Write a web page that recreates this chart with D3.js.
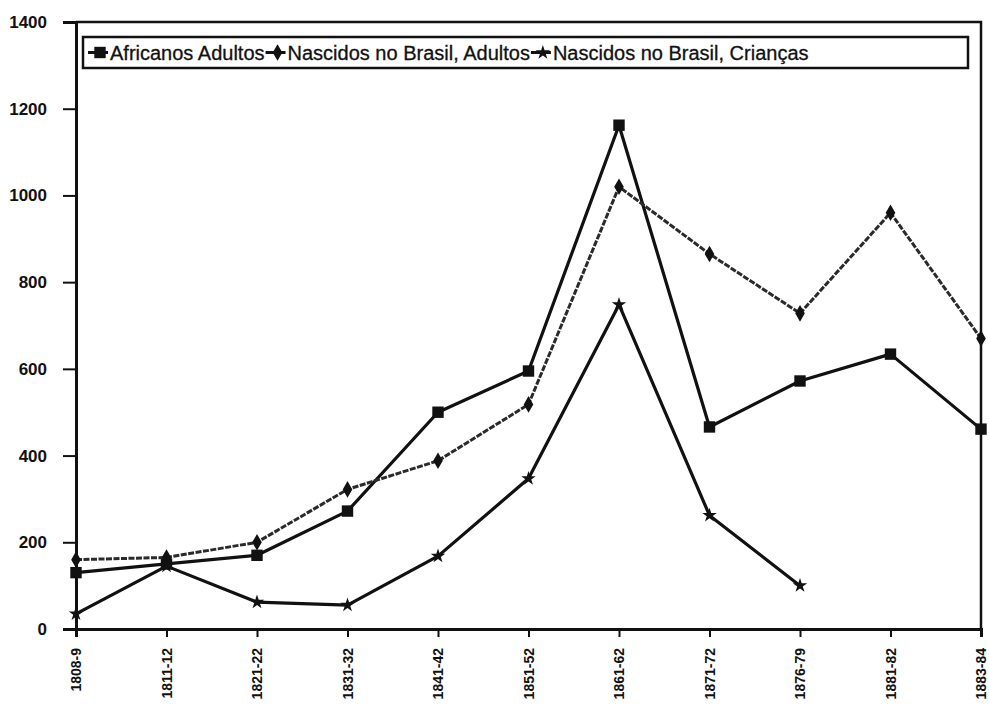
<!DOCTYPE html>
<html>
<head>
<meta charset="utf-8">
<script src="https://cdn.jsdelivr.net/npm/d3@7"></script>
<style>
html,body{margin:0;padding:0;background:#fff;}
svg{display:block;}
</style>
</head>
<body>
<svg id="chart" width="989" height="709"></svg>
<script>
const categories = ["1808-9","1811-12","1821-22","1831-32","1841-42","1851-52","1861-62","1871-72","1876-79","1881-82","1883-84"];
const africanosAdultos = [130,150,170,272,500,595,1162,466,572,634,461];
const nascidosAdultos = [160,165,200,322,388,518,1020,865,728,960,670];
const nascidosCriancas = [35,145,62,55,168,347,748,262,100,null,null];
const yTicks = [0,200,400,600,800,1000,1200,1400];
const seriesNames = ["Africanos Adultos","Nascidos no Brasil, Adultos","Nascidos no Brasil, Crianças"];

const svg = d3.select("#chart");
const plotLeft = 76, plotRight = 981, plotTop = 22, plotBottom = 629;

const x = d3.scalePoint().domain(categories).range([plotLeft, plotRight]);
const y = d3.scaleLinear().domain([0,1400]).range([plotBottom, plotTop]);

// frame (top/right)
svg.append("path")
  .attr("d", `M${plotLeft},${plotTop}H${plotRight}V${plotBottom}`)
  .attr("fill","none").attr("stroke","#111").attr("stroke-width",2.5);

// Y axis
const yAxis = svg.append("g").attr("transform",`translate(${plotLeft},0)`)
  .call(d3.axisLeft(y).tickValues(yTicks).tickSize(13).tickPadding(16).tickFormat(d3.format("d")));
yAxis.select(".domain").attr("stroke","#111").attr("stroke-width",3);
yAxis.selectAll(".tick line").attr("stroke","#111").attr("stroke-width",2);
yAxis.selectAll("text").attr("font-family","Liberation Sans, Arial, sans-serif")
  .attr("font-weight","bold").attr("font-size",17).attr("fill","#111");

// X axis
const xAxis = svg.append("g").attr("transform",`translate(0,${plotBottom})`)
  .call(d3.axisBottom(x).tickSize(8).tickPadding(0));
xAxis.select(".domain").attr("stroke","#111").attr("stroke-width",3);
xAxis.selectAll(".tick line").attr("stroke","#111").attr("stroke-width",2);
xAxis.selectAll("text")
  .attr("font-family","Liberation Sans, Arial, sans-serif")
  .attr("font-weight","bold").attr("font-size",14).attr("fill","#111")
  .attr("text-anchor","end")
  .attr("transform","translate(0,19) rotate(-90)")
  .attr("x",0).attr("y",0).attr("dy","0.35em");

const series = [
  {name: seriesNames[0], values: africanosAdultos, symbol: d3.symbolSquare, size: 130, dash: null, color:"#111", width:3.2},
  {name: seriesNames[1], values: nascidosAdultos, symbol: d3.symbolDiamond, size: 80, dash: "6,1.5", color:"#2a2a2a", width:3},
  {name: seriesNames[2], values: nascidosCriancas, symbol: d3.symbolStar, size: 65, dash: null, color:"#111", width:3.2}
];

const line = d3.line()
  .defined(d => d.v != null)
  .x(d => x(d.c)).y(d => y(d.v));

series.forEach(s => {
  const data = categories.map((c,i) => ({c, v: s.values[i]}));
  svg.append("path").datum(data)
    .attr("d", line)
    .attr("fill","none").attr("stroke", s.color)
    .attr("stroke-width", s.width)
    .attr("stroke-linejoin","round")
    .attr("stroke-dasharray", s.dash);
  svg.append("g").selectAll("path").data(data.filter(d => d.v != null))
    .join("path")
    .attr("transform", d => `translate(${x(d.c)},${y(d.v)})`)
    .attr("d", d3.symbol().type(s.symbol).size(s.size))
    .attr("fill","#111");
});

// Legend
const lg = svg.append("g");
lg.append("rect").attr("x",83).attr("y",37).attr("width",885).attr("height",31)
  .attr("fill","#fff").attr("stroke","#111").attr("stroke-width",2.5);
let lx = 88;
series.forEach(s => {
  lg.append("line").attr("x1",lx).attr("x2",lx+20).attr("y1",52.5).attr("y2",52.5)
    .attr("stroke","#111").attr("stroke-width",3);
  lg.append("path").attr("transform",`translate(${lx+12},52.5)`)
    .attr("d", d3.symbol().type(s.symbol).size(s.size)).attr("fill","#111");
  const t = lg.append("text").attr("x",lx+22).attr("y",52.5).attr("dy","0.36em")
    .attr("font-family","Liberation Sans, Arial, sans-serif").attr("font-size",20)
    .attr("fill","#111").attr("stroke","#111").attr("stroke-width",0.3).text(s.name);
  lx += 22 + t.node().getComputedTextLength() + 1;
});
</script>
</body>
</html>
